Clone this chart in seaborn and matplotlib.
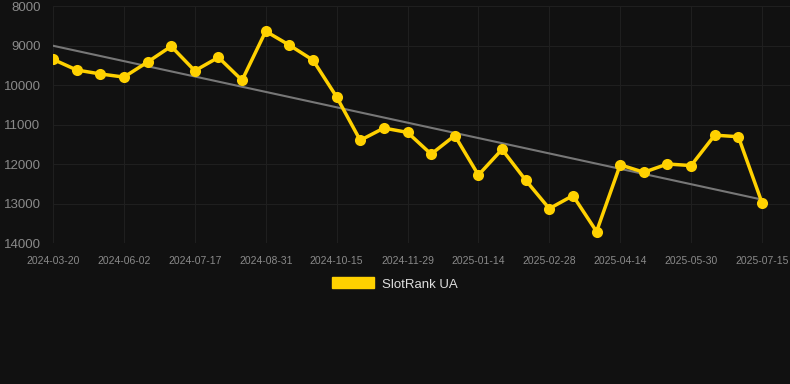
import numpy as np
import pandas as pd
import matplotlib
matplotlib.use("Agg")
import matplotlib.pyplot as plt
import seaborn as sns
from matplotlib.patches import Patch

# dates of each point (category axis, every 3rd one is labelled)
dates = ['2024-03-20', '2024-04-13', '2024-05-08', '2024-06-02', '2024-06-17', '2024-07-02',
         '2024-07-17', '2024-08-01', '2024-08-16', '2024-08-31', '2024-09-15', '2024-09-30',
         '2024-10-15', '2024-10-30', '2024-11-14', '2024-11-29', '2024-12-14', '2024-12-29',
         '2025-01-14', '2025-01-29', '2025-02-13', '2025-02-28', '2025-03-15', '2025-03-30',
         '2025-04-14', '2025-04-29', '2025-05-14', '2025-05-30', '2025-06-14', '2025-06-29',
         '2025-07-15']
rank = [9350, 9620, 9720, 9800, 9420, 9020, 9640, 9300, 9880, 8640, 8990, 9370,
        10300, 11400, 11090, 11200, 11750, 11280, 12280, 11630, 12410, 13130, 12800, 13710,
        12020, 12210, 12000, 12040, 11270, 11310, 12980]
series_name = 'SlotRank UA'
y_ticks = [8000, 9000, 10000, 11000, 12000, 13000, 14000]

df = pd.DataFrame({'idx': np.arange(len(dates)), 'date': dates, 'rank': rank})

bg = '#111111'
yellow = '#ffd100'
grid_col = '#1f1f1f'
sns.set_style('dark')
plt.rcParams['font.family'] = ['Liberation Sans', 'DejaVu Sans']

fig = plt.figure(figsize=(7.9, 3.84), dpi=100, facecolor=bg)
ax = fig.add_axes([53/790, 1-243/384, (790-53)/790, (243-6)/384])
ax.set_facecolor(bg)

# trend line
sns.regplot(data=df, x='idx', y='rank', scatter=False, ci=None, ax=ax,
            line_kws={'color': '#777777', 'linewidth': 1.5})
sns.lineplot(data=df, x='idx', y='rank', ax=ax, color=yellow, linewidth=2.5,
             marker='o', markersize=8, markeredgewidth=0, zorder=3)

ax.set_xlim(0, 30 * (790-53) / (762-53))
ax.set_ylim(14000, 8000)
ax.set_yticks(y_ticks)
ax.set_yticklabels([str(v) for v in y_ticks])
tick_idx = list(range(0, len(dates), 3))
ax.set_xticks(tick_idx)
ax.set_xticklabels([dates[i] for i in tick_idx])

ax.grid(True, color=grid_col, linewidth=0.8)
for s in ax.spines.values():
    s.set_visible(False)
ax.tick_params(axis='y', colors=grid_col, labelcolor='#8a8a8a', labelsize=9.5, length=7, pad=2)
ax.tick_params(axis='x', colors=grid_col, labelcolor='#8a8a8a', labelsize=7.5, length=5, pad=4)
ax.set_xlabel('')
ax.set_ylabel('')

fig.legend(handles=[Patch(facecolor=yellow, edgecolor=yellow, label=series_name)],
           loc='center', bbox_to_anchor=(0.5, 1-284/384), frameon=False,
           handlelength=3.2, handleheight=0.9, handletextpad=0.6,
           fontsize=9.5, labelcolor='#dddddd')

fig.savefig('out.png', dpi=100, facecolor=bg)
